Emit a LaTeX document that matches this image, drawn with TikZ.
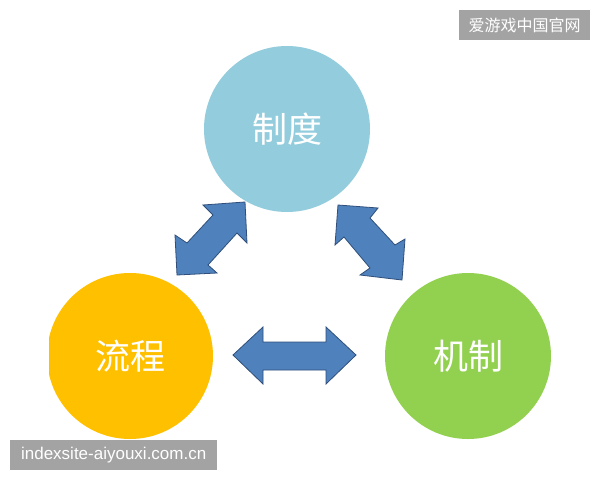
\documentclass[tikz,border=0pt]{standalone}
\usepackage{fontspec}
\newfontfamily\cjk{Noto Sans CJK SC}
\newfontfamily\latinsans{Liberation Sans}
\definecolor{cblue}{HTML}{93CDDD}
\definecolor{cyellow}{HTML}{FFC000}
\definecolor{cgreen}{HTML}{92D050}
\definecolor{afill}{HTML}{4F81BD}
\definecolor{aline}{HTML}{2F4F7A}
\definecolor{wmgray}{HTML}{A3A3A3}
\tikzset{
  circ/.style={circle, minimum size=166pt, inner sep=0pt, text=white, font=\cjk\fontsize{35}{35}\selectfont},
  dblarrow/.style={fill=afill, draw=aline, line width=0.8pt, line join=miter},
  wmbox/.style={fill=wmgray, text=white, inner sep=0pt, anchor=north west}
}
\begin{document}
\begin{tikzpicture}[x=1pt,y=-1pt]
\useasboundingbox (0,0) rectangle (600,480);
\fill[white] (0,0) rectangle (600,480);
% circles
\node[circ, fill=cblue] (zd) at (287,129) {制度};
\begin{scope}
\clip (49,0) rectangle (600,480);
\node[circ, fill=cyellow] (lc) at (130,356) {流程};
\end{scope}
\node[circ, fill=cgreen] (jz) at (468,356) {机制};
% left diagonal arrow
\draw[dblarrow] (245,202) -- (247,243) -- (237,233) -- (208,265) -- (217,273)
  -- (177,275) -- (175,235) -- (187,243) -- (213,215) -- (203,205) -- cycle;
% right diagonal arrow
\draw[dblarrow] (338,205) -- (378,208) -- (370,218) -- (395,245) -- (405,239)
  -- (402,280) -- (360,275) -- (370,268) -- (344,237) -- (335,245) -- cycle;
% horizontal arrow
\draw[dblarrow] (233,355) -- (263,327) -- (263,342) -- (326,342) -- (326,327)
  -- (356,355) -- (326,384) -- (326,370) -- (263,370) -- (263,384) -- cycle;
% watermarks
\node[wmbox, minimum width=131pt, minimum height=30pt] (wm1) at (459,10) {};
\node[text=white, font=\cjk\fontsize{16}{16}\selectfont] (wm1t) at (wm1.center) {爱游戏中国官网};
\node[wmbox, minimum width=207pt, minimum height=30pt] (wm2) at (10,440) {};
\node[text=white, font=\latinsans\fontsize{17}{17}\selectfont] (wm2t) at (wm2.center) {indexsite-aiyouxi.com.cn};
\end{tikzpicture}
\end{document}
